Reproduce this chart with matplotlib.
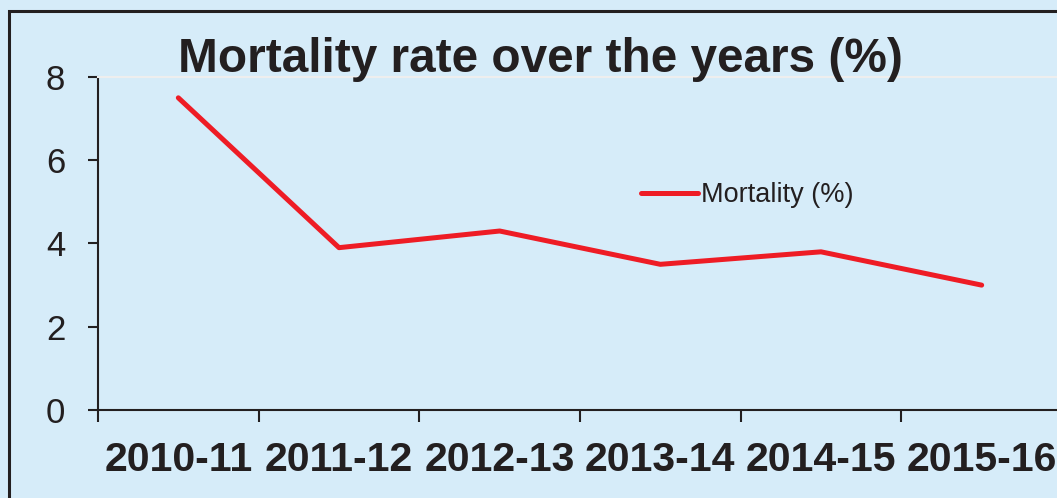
import matplotlib.pyplot as plt
from matplotlib.patches import Rectangle

years = ["2010-11", "2011-12", "2012-13", "2013-14", "2014-15", "2015-16"]
mortality = [7.5, 3.9, 4.3, 3.5, 3.8, 3.0]
yticks = [0, 2, 4, 6, 8]

bg = "#d6ecf9"
red = "#ee1c25"

plt.rcParams["font.family"] = ["Liberation Sans", "DejaVu Sans"]

fig = plt.figure(figsize=(10.57, 4.98), dpi=100, facecolor=bg)
W, H = 1057, 498

# plot area runs past the right edge of the figure
ax = fig.add_axes([98 / W, 1 - 410 / H, 964 / W, 333 / H])
ax.set_facecolor(bg)

x = [i + 0.5 for i in range(len(years))]
ax.plot(x, mortality, color=red, lw=3.6, solid_capstyle="round",
        label="Mortality (%)")

ax.set_xlim(0, len(years))
ax.set_ylim(0, 8)
ax.set_yticks(yticks)
ax.set_xticks(range(len(years) + 1), minor=False)
ax.set_xticklabels([])
ax.set_xticks(x, minor=True)
ax.set_xticklabels(years, minor=True, fontsize=29.5, fontweight="bold",
                   color="#231f20")
ax.tick_params(axis="x", which="minor", length=0, pad=22)
ax.tick_params(axis="x", which="major", length=8.5, width=1.5,
               direction="out", color="#231f20")
ax.tick_params(axis="y", length=7.5, width=1.5, direction="out",
               labelsize=25, pad=16, color="#231f20", labelcolor="#231f20")

for side in ("left", "bottom"):
    ax.spines[side].set_color("#231f20")
    ax.spines[side].set_linewidth(1.5)
ax.spines["top"].set_color("#eeeeee")
ax.spines["top"].set_linewidth(1.5)
ax.spines["right"].set_visible(False)

fig.text(540 / W, 1 - 60 / H, "Mortality rate over the years (%)",
         ha="center", va="center", fontsize=34.4, fontweight="bold",
         color="#231f20")

leg = ax.legend(loc="center left", bbox_to_anchor=(641 / W, 1 - 195 / H),
                bbox_transform=fig.transFigure, frameon=False, fontsize=19.5,
                handlelength=2.1, handletextpad=0.1, borderaxespad=0,
                borderpad=0)
for t in leg.get_texts():
    t.set_color("#231f20")

# outer frame
fig.patches.append(Rectangle((9 / W, -0.1), 1.2, 1 - 11 / H + 0.1,
                             transform=fig.transFigure, fill=False,
                             edgecolor="#231f20", lw=2.2))

fig.savefig("out.png", dpi=100, facecolor=bg)
